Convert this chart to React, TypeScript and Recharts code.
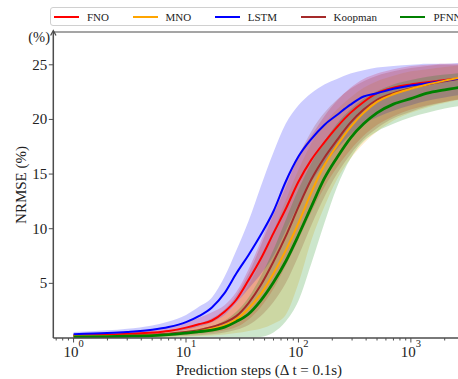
import React from 'react';
import { ComposedChart, Area, Line, XAxis, YAxis, ReferenceLine } from 'recharts';

const FONT = '"Liberation Serif", "DejaVu Serif", serif';
const AXIS = '#4d4d4d';

// prediction steps (log axis)
const steps = [1, 2, 3, 5, 7, 10, 13, 17, 22, 28, 36, 46, 60, 77, 100, 130, 170, 220, 290, 380, 500, 700, 1000, 1400, 2000, 3000];

const fnoMean = [0.25, 0.3, 0.38, 0.5, 0.65, 0.95, 1.25, 1.6, 2.4, 3.5, 5.3, 7.2, 9.6, 11.8, 14.3, 16.3, 17.9, 19.3, 20.6, 21.6, 22.4, 22.9, 23.2, 23.4, 23.6, 23.8];
const fnoLow = [0.1, 0.12, 0.15, 0.2, 0.25, 0.3, 0.38, 0.5, 0.7, 1.0, 1.7, 2.8, 4.5, 6.6, 9.0, 11.5, 13.8, 15.6, 17.2, 18.5, 19.5, 20.3, 20.9, 21.3, 21.6, 21.9];
const fnoHigh = [0.4, 0.5, 0.6, 0.8, 1.05, 1.45, 1.85, 2.35, 3.0, 4.2, 6.3, 8.8, 11.8, 14.5, 16.8, 18.5, 20.3, 21.7, 22.9, 23.7, 24.2, 24.6, 24.9, 25.0, 25.1, 25.1];

const mnoMean = [0.15, 0.18, 0.2, 0.25, 0.32, 0.45, 0.6, 0.85, 1.15, 1.7, 2.7, 4.0, 5.9, 8.0, 10.5, 13.3, 15.8, 17.6, 19.3, 20.6, 21.6, 22.3, 22.8, 23.2, 23.55, 23.9];
const mnoLow = [0.05, 0.06, 0.07, 0.08, 0.1, 0.14, 0.18, 0.24, 0.33, 0.45, 0.65, 0.85, 1.3, 2.1, 5.0, 8.9, 12.0, 14.5, 16.4, 17.8, 18.9, 19.9, 20.6, 21.1, 21.5, 21.9];
const mnoHigh = [0.25, 0.3, 0.35, 0.45, 0.6, 0.85, 1.1, 1.5, 2.1, 3.1, 4.8, 7.0, 9.8, 12.6, 15.4, 17.8, 19.6, 20.9, 22.0, 22.9, 23.5, 24.0, 24.4, 24.6, 24.8, 25.0];

const lstmMean = [0.35, 0.45, 0.55, 0.75, 1.0, 1.45, 2.0, 2.8, 4.1, 5.9, 7.6, 9.4, 11.6, 14.3, 16.6, 18.2, 19.5, 20.4, 21.35, 22.1, 22.4, 22.8, 23.1, 23.3, 23.55, 23.8];
const lstmLow = [0.2, 0.25, 0.3, 0.4, 0.55, 0.75, 1.05, 1.45, 2.1, 3.2, 4.5, 5.8, 7.5, 9.8, 12.2, 14.3, 15.9, 17.3, 18.6, 19.6, 20.2, 20.8, 21.3, 21.7, 22.0, 22.3];
const lstmHigh = [0.55, 0.7, 0.85, 1.15, 1.5, 2.1, 2.85, 3.7, 5.6, 8.0, 10.7, 13.8, 17.0, 19.6, 21.3, 22.4, 23.2, 23.7, 24.2, 24.5, 24.75, 24.9, 25.0, 25.1, 25.1, 25.2];

const koopMean = [0.2, 0.22, 0.26, 0.32, 0.4, 0.55, 0.72, 1.0, 1.4, 2.0, 3.2, 4.8, 7.0, 9.3, 12.0, 14.5, 16.5, 18.1, 19.7, 20.9, 21.8, 22.4, 22.85, 23.2, 23.5, 23.8];
const koopLow = [0.08, 0.09, 0.1, 0.12, 0.15, 0.2, 0.26, 0.35, 0.5, 0.75, 1.2, 2.0, 3.3, 5.0, 7.5, 10.3, 12.9, 15.0, 16.8, 18.2, 19.2, 20.1, 20.7, 21.2, 21.6, 21.9];
const koopHigh = [0.3, 0.35, 0.42, 0.52, 0.68, 0.95, 1.3, 1.8, 2.6, 3.9, 5.9, 8.4, 11.3, 13.8, 16.6, 18.9, 20.6, 21.8, 22.8, 23.5, 24.0, 24.4, 24.7, 24.9, 25.0, 25.0];

const pfnnMean = [0.1, 0.13, 0.16, 0.22, 0.3, 0.45, 0.58, 0.72, 1.0, 1.5, 2.2, 3.4, 5.1, 7.0, 9.4, 12.0, 14.6, 16.5, 18.3, 19.6, 20.6, 21.4, 21.9, 22.4, 22.7, 23.0];
const pfnnLow = [0.03, 0.04, 0.05, 0.06, 0.07, 0.09, 0.1, 0.1, 0.08, 0.05, 0.05, 0.1, 0.5, 1.5, 3.4, 6.8, 10.5, 13.8, 16.4, 18.0, 18.9, 19.6, 20.2, 20.6, 21.0, 21.3];
const pfnnHigh = [0.18, 0.22, 0.26, 0.33, 0.42, 0.65, 0.85, 1.1, 1.6, 2.4, 3.7, 5.6, 8.1, 10.8, 13.6, 16.0, 18.0, 19.6, 20.9, 21.9, 22.6, 23.2, 23.6, 23.9, 24.1, 24.3];

const yTicks = [5, 10, 15, 20, 25];
const xTicks = [0.7, 0.8, 0.9, 1, 2, 3, 4, 5, 6, 7, 8, 9, 10, 20, 30, 40, 50, 60, 70, 80, 90, 100, 200, 300, 400, 500, 600, 700, 800, 900, 1000, 2000, 3000];

const series = [
  { name: 'FNO', key: 'fno', color: '#ff0000', width: 2 },
  { name: 'MNO', key: 'mno', color: '#ffa500', width: 2 },
  { name: 'LSTM', key: 'lstm', color: '#0000ff', width: 2 },
  { name: 'Koopman', key: 'koop', color: '#a52a2a', width: 2 },
  { name: 'PFNN', key: 'pfnn', color: '#008000', width: 2.8 },
];

const data = steps.map((x, i) => ({
  x,
  fno: fnoMean[i], fnoBand: [fnoLow[i], fnoHigh[i]],
  mno: mnoMean[i], mnoBand: [mnoLow[i], mnoHigh[i]],
  lstm: lstmMean[i], lstmBand: [lstmLow[i], lstmHigh[i]],
  koop: koopMean[i], koopBand: [koopLow[i], koopHigh[i]],
  pfnn: pfnnMean[i], pfnnBand: [pfnnLow[i], pfnnHigh[i]],
}));

const XTick = (props: any) => {
  const { x, y, payload } = props;
  const e = Math.log10(payload.value);
  const major = Math.abs(e - Math.round(e)) < 1e-6;
  return (
    <g>
      <line x1={x} x2={x} y1={y} y2={y + (major ? 4.5 : 2.5)} stroke={AXIS} strokeWidth={1} />
      {major && (
        <text x={x} y={y + 19} textAnchor="middle" fontSize={15} fontFamily={FONT} fill="#222">
          10<tspan dy={-10} fontSize={10.5}>{Math.round(e)}</tspan>
        </text>
      )}
    </g>
  );
};

const YTick = (props: any) => {
  const { x, y, payload } = props;
  return (
    <g>
      <line x1={x - 4.5} x2={x} y1={y} y2={y} stroke={AXIS} strokeWidth={1} />
      <text x={x - 6} y={y + 5} textAnchor="end" fontSize={15} fontFamily={FONT} fill="#222">{payload.value}</text>
    </g>
  );
};

export default function App() {
  return (
    <div style={{ position: 'fixed', left: 0, top: 0, width: 458, height: 379, overflow: 'hidden', background: '#fff', fontFamily: FONT }}>
      <ComposedChart width={480} height={379} data={data} margin={{ top: 32, right: 15.5, bottom: 0, left: 0 }}>
        <XAxis
          dataKey="x"
          type="number"
          scale="log"
          domain={[0.66, 3000]}
          allowDataOverflow
          ticks={xTicks}
          interval={0}
          tickLine={false}
          tickSize={0}
          tickMargin={0}
          tick={<XTick />}
          height={41}
          axisLine={{ stroke: AXIS, strokeWidth: 1.5 }}
          label={{
            content: (p: any) => (
              <text x={p.viewBox.x + p.viewBox.width / 2} y={p.viewBox.y + 37} textAnchor="middle" fontSize={15} fontFamily={FONT} fill="#222">
                Prediction steps (Δ t = 0.1s)
              </text>
            ),
          }}
        />
        <YAxis
          type="number"
          domain={[0, 28]}
          ticks={yTicks}
          width={53.3}
          tickLine={false}
          tickSize={0}
          tickMargin={0}
          tick={<YTick />}
          axisLine={{ stroke: AXIS, strokeWidth: 1.5 }}
          label={{
            content: (p: any) => {
              const cx = 21;
              const cy = p.viewBox.y + p.viewBox.height / 2;
              return (
                <text x={cx} y={cy} transform={`rotate(-90 ${cx} ${cy})`} textAnchor="middle" dominantBaseline="central" fontSize={15} fontFamily={FONT} fill="#222">
                  NRMSE (%)
                </text>
              );
            },
          }}
        />
        <ReferenceLine y={28} stroke={AXIS} strokeWidth={1.2} />
        {series.map((s) => (
          <Area
            key={s.key + 'Band'}
            type="monotone"
            dataKey={s.key + 'Band'}
            stroke="none"
            fill={s.color}
            fillOpacity={0.2}
            dot={false}
            activeDot={false}
            isAnimationActive={false}
          />
        ))}
        {['koop', 'fno', 'lstm', 'mno', 'pfnn'].map((k) => {
          const s = series.find((d) => d.key === k)!;
          return (
            <Line
              key={k}
              type="monotone"
              dataKey={k}
              stroke={s.color}
              strokeWidth={s.width}
              dot={false}
              activeDot={false}
              isAnimationActive={false}
            />
          );
        })}
      </ComposedChart>
      <svg width={458} height={379} style={{ position: 'absolute', left: 0, top: 0, pointerEvents: 'none' }}>
        <path d="M50.6 35.5 L53.3 30.5 L56 35.5" fill="none" stroke={AXIS} strokeWidth={1.3} />
        <text x={50} y={42} textAnchor="end" fontSize={14.5} fontFamily={FONT} fill="#222">(%)</text>
      </svg>
      <div
        style={{
          position: 'absolute', left: 50, top: 7, width: 440, height: 17,
          border: '1px solid #d0d0d0', borderRadius: 3, background: '#fff',
          display: 'flex', alignItems: 'center', paddingLeft: 3, boxSizing: 'content-box',
        }}
      >
        {series.map((s) => (
          <div key={s.key} style={{ display: 'flex', alignItems: 'center', marginRight: 23.5 }}>
            <div style={{ width: 25, height: 2, background: s.color }} />
            <span style={{ marginLeft: 8, fontSize: 11, color: '#222', whiteSpace: 'nowrap' }}>{s.name}</span>
          </div>
        ))}
      </div>
    </div>
  );
}
